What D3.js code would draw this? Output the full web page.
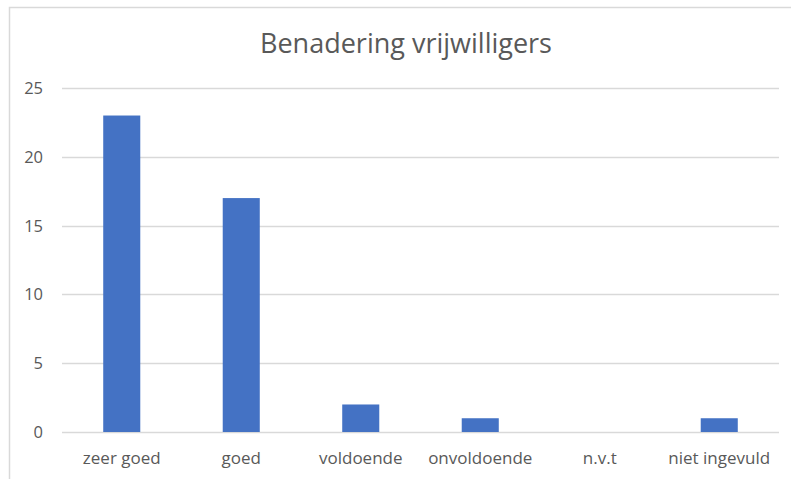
<!DOCTYPE html>
<html>
  <head>
    <meta charset="utf-8">
    <title>Benadering vrijwilligers</title>
    <script src="https://d3js.org/d3.v7.min.js"></script>
    <style>
      body { margin: 0; background: #fff; }
      text { font-family: "Open Sans", sans-serif; fill: #595959; }
    </style>
  </head>
  <body>
    <svg id="chart" width="791" height="479"></svg>
    <script>
      // data
      const categories = ["zeer goed", "goed", "voldoende", "onvoldoende", "n.v.t", "niet ingevuld"];
      const values = [23, 17, 2, 1, 0, 1];
      const yTicks = [0, 5, 10, 15, 20, 25];
      const title = "Benadering vrijwilligers";

      const svg = d3.select("#chart");
      const margin = { top: 88, bottom: 47, left: 62, right: 12 };
      const width = 791, height = 479;

      // chart frame (cropped at right and bottom)
      svg.append("path")
        .attr("d", "M9.5,479 V7.5 H791")
        .attr("fill", "none")
        .attr("stroke", "#d9d9d9")
        .attr("stroke-width", 1.5);

      const x = d3.scaleBand()
        .domain(categories)
        .range([margin.left, width - margin.right])
        .paddingInner(0.69)
        .paddingOuter(0.345);

      const y = d3.scaleLinear()
        .domain([0, 25])
        .range([height - margin.bottom, margin.top]);

      // gridlines
      svg.append("g")
        .selectAll("line")
        .data(yTicks)
        .join("line")
          .attr("x1", margin.left)
          .attr("x2", width - margin.right)
          .attr("y1", d => Math.round(y(d)) + 0.5)
          .attr("y2", d => Math.round(y(d)) + 0.5)
          .attr("stroke", "#d9d9d9")
          .attr("stroke-width", 1.3);

      // y labels
      svg.append("g")
        .selectAll("text")
        .data(yTicks)
        .join("text")
          .attr("x", 43)
          .attr("y", d => y(d) + 6)
          .attr("text-anchor", "end")
          .style("font-size", "16.5px")
          .text(d => d);

      // bars
      svg.append("g")
        .selectAll("rect")
        .data(values)
        .join("rect")
          .attr("x", (d, i) => x(categories[i]))
          .attr("width", x.bandwidth())
          .attr("y", d => y(d))
          .attr("height", d => y(0) - y(d))
          .attr("fill", "#4472c4");

      // category labels
      svg.append("g")
        .selectAll("text")
        .data(categories)
        .join("text")
          .attr("x", d => x(d) + x.bandwidth() / 2)
          .attr("y", 464)
          .attr("text-anchor", "middle")
          .style("font-size", "17px")
          .text(d => d);

      // title
      svg.append("text")
        .attr("x", 406)
        .attr("y", 53)
        .attr("text-anchor", "middle")
        .style("font-size", "27px")
        .text(title);
    </script>
  </body>
</html>
